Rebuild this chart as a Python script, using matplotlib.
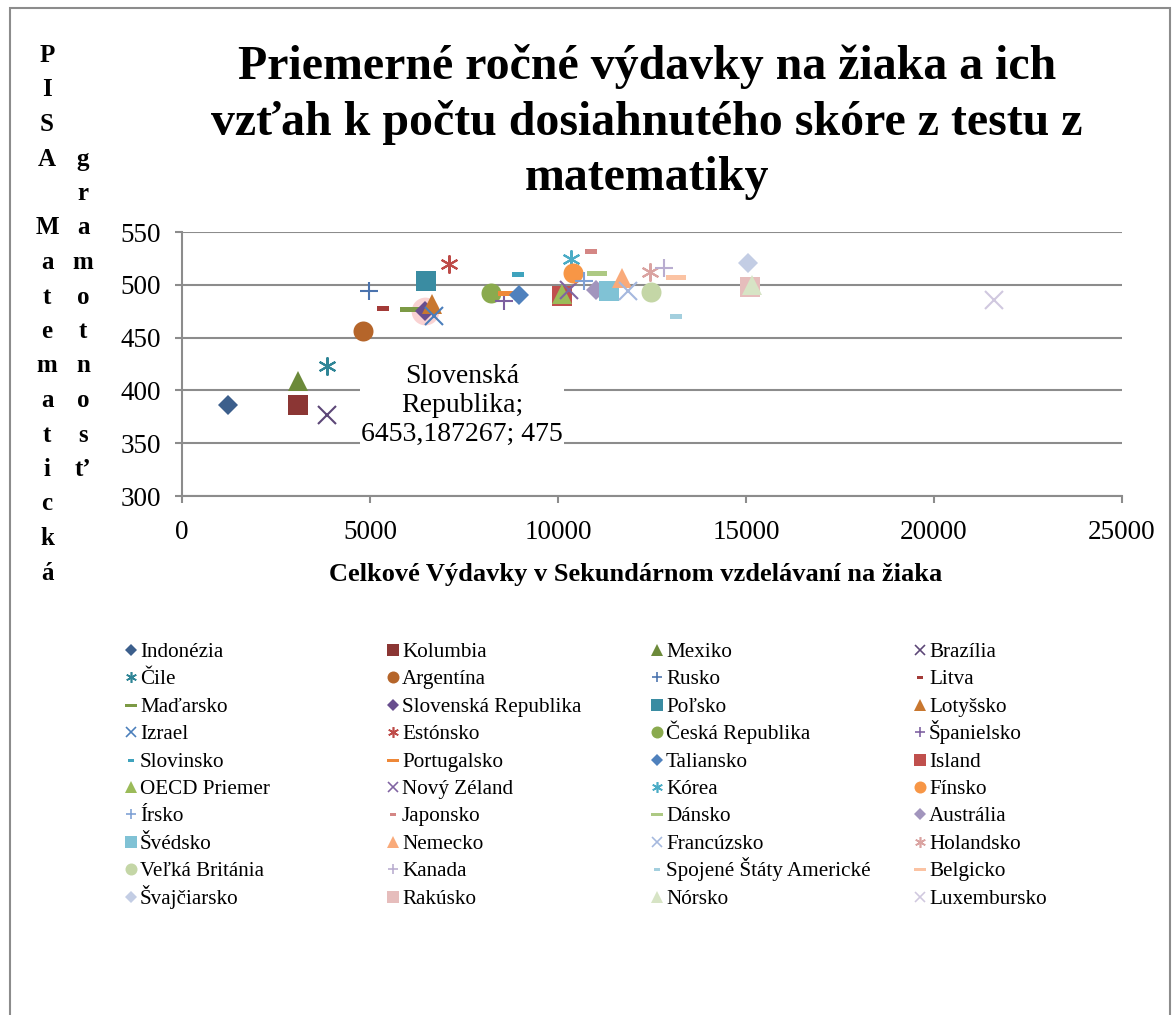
import numpy as np
import matplotlib.pyplot as plt
from matplotlib.patches import Rectangle
from matplotlib.lines import Line2D

plt.rcParams['font.family'] = ['Liberation Serif', 'DejaVu Serif']

# krajiny, vydavky na ziaka a PISA skore z matematiky
krajiny = ['Indonézia', 'Kolumbia', 'Mexiko', 'Brazília', 'Čile', 'Argentína',
           'Rusko', 'Litva', 'Maďarsko', 'Slovenská Republika', 'Poľsko', 'Lotyšsko',
           'Izrael', 'Estónsko', 'Česká Republika', 'Španielsko', 'Slovinsko', 'Portugalsko',
           'Taliansko', 'Island', 'OECD Priemer', 'Nový Zéland', 'Kórea', 'Fínsko',
           'Írsko', 'Japonsko', 'Dánsko', 'Austrália', 'Švédsko', 'Nemecko',
           'Francúzsko', 'Holandsko', 'Veľká Británia', 'Kanada', 'Spojené Štáty Americké', 'Belgicko',
           'Švajčiarsko', 'Rakúsko', 'Nórsko', 'Luxembursko']
vydavky = [1215, 3094, 3094, 3848, 3848, 4822,
           4973, 5354, 6064, 6453.187267, 6489, 6657,
           6711, 7092, 8218, 8564, 8936, 8679,
           8971, 10115, 10115, 10293, 10337, 10408,
           10691, 10886, 11029, 11000, 11356, 11710,
           11853, 12455, 12473, 12819, 13147, 13138,
           15045, 15106, 15168, 21604]
skore = [386, 386, 409, 377, 423, 456,
         494, 478, 477, 475, 504, 482,
         470, 520, 492, 485, 510, 492,
         490, 489, 491, 495, 524, 511,
         504, 532, 511, 495, 494, 506,
         494, 512, 493, 516, 470, 507,
         521, 498, 500, 486]
farby = ['#3C5F8C', '#8B3634', '#6C8A3A', '#5C4677', '#2F8596', '#B5652A',
         '#4A73AE', '#A33B38', '#7C9A45', '#684E8E', '#3A8CA2', '#C8772F',
         '#4A7EBB', '#BE4B48', '#8AAA4E', '#7D5FA0', '#3FA3BD', '#EE8838',
         '#4F81BD', '#C0504D', '#9BBB59', '#8064A2', '#4BACC6', '#F79646',
         '#7EA0D4', '#D48684', '#ADC983', '#A295BD', '#80C2D5', '#F9AA7A',
         '#A5B8DE', '#DAA3A1', '#C4D6A6', '#B9ADD0', '#A3CFDE', '#FBC3A3',
         '#C3CDE4', '#E6BDBC', '#D7E4C5', '#D0C8DF']

# excel marker cycle
short_dash = [(-1, -0.45), (1, -0.45), (1, 0.45), (-1, 0.45), (-1, -0.45)]
long_dash = [(-1, -0.25), (1, -0.25), (1, 0.25), (-1, 0.25), (-1, -0.25)]
znacky = [('D', 10, True), ('s', 14.4, True), ('^', 14.4, True), ('x', 13, False),
          ((6, 2, 0), 13, False), ('o', 14.4, True), ('+', 13, False),
          (short_dash, 8, True), (long_dash, 14.4, True)]

W, H = 1175, 1015
fig = plt.figure(figsize=(W/100, H/100), dpi=100)
ax = fig.add_axes([182/W, 1-496/H, 940/W, 264/H])


def styl(i, scale=1.0):
    m, ms, filled = znacky[i % 9]
    return dict(marker=m, ms=ms*scale, color=farby[i], mew=0 if filled else 1.5*scale**0.5,
                linestyle='none')


for i, k in enumerate(krajiny):
    if k == 'Slovenská Republika':
        ax.plot(vydavky[i], skore[i], 'o', ms=20, color='#F08080', alpha=0.35, mew=0, zorder=2)
    ax.plot(vydavky[i], skore[i], zorder=3, **styl(i))

ax.set_xlim(0, 25000)
ax.set_ylim(300, 550)
ax.set_xticks(np.arange(0, 25001, 5000))
ax.set_yticks(np.arange(300, 551, 50))
ax.grid(axis='y', color='#8C8C8C', lw=1.5)
ax.set_axisbelow(True)
for s in ['top', 'right']:
    ax.spines[s].set_visible(False)
for s in ['left', 'bottom']:
    ax.spines[s].set_color('#8C8C8C')
    ax.spines[s].set_linewidth(1.5)
ax.tick_params(axis='both', color='#8C8C8C', width=1.5, length=5, labelsize=19.5)
ax.tick_params(axis='y', pad=10)
ax.tick_params(axis='x', pad=12)

fig.text(636/W, 1-575/H, 'Celkové Výdavky v Sekundárnom vzdelávaní na žiaka',
         ha='center', va='center', fontsize=19, fontweight='bold')

# data label
i = krajiny.index('Slovenská Republika')
popis = '%s;\n%s; %d' % (krajiny[i].replace(' ', '\n'),
                        ('%.6f' % vydavky[i]).replace('.', ','), skore[i])
ax.text(7450, 386, popis, ha='center', va='center', fontsize=20, linespacing=1.22,
        bbox=dict(fc='white', ec='none', pad=0.5), zorder=4)

# title
fig.text(647/W, 1-122/H,
         'Priemerné ročné výdavky na žiaka a ich\nvzťah k počtu dosiahnutého skóre z testu z\nmatematiky',
         ha='center', va='center', fontsize=34.5, fontweight='bold', linespacing=1.32)

# y label stacked like excel
stlpec1 = list('PISA Matematická')
stlpec2 = ['g', 'r', 'a', 'm', 'o', 't', 'n', 'o', 's', 't’']
for r, ch in enumerate(stlpec1):
    fig.text(47/W, 1-(62+34.5*r)/H, ch, ha='center', va='baseline',
             fontsize=18, fontweight='bold')
for r, ch in enumerate(stlpec2):
    fig.text(83/W, 1-(62+34.5*(r+3))/H, ch, ha='center', va='baseline',
             fontsize=18, fontweight='bold')

# legend, 4 columns filled row by row
stlpce_x = [131, 393, 657, 920]
for i, k in enumerate(krajiny):
    r, c = divmod(i, 4)
    x = stlpce_x[c]
    y = 650 + 27.4*r
    fig.add_artist(Line2D([x/W], [1-y/H], transform=fig.transFigure, **styl(i, 0.6)))
    fig.text((x + 9)/W, 1-(y+7)/H, k, ha='left', va='baseline', fontsize=15.2)

fig.patches.append(Rectangle((10/W, -0.1), 1160/W, 1.1-8/H, transform=fig.transFigure,
                             fill=False, ec='#8C8C8C', lw=1.5))

fig.savefig('out.png', dpi=100)
